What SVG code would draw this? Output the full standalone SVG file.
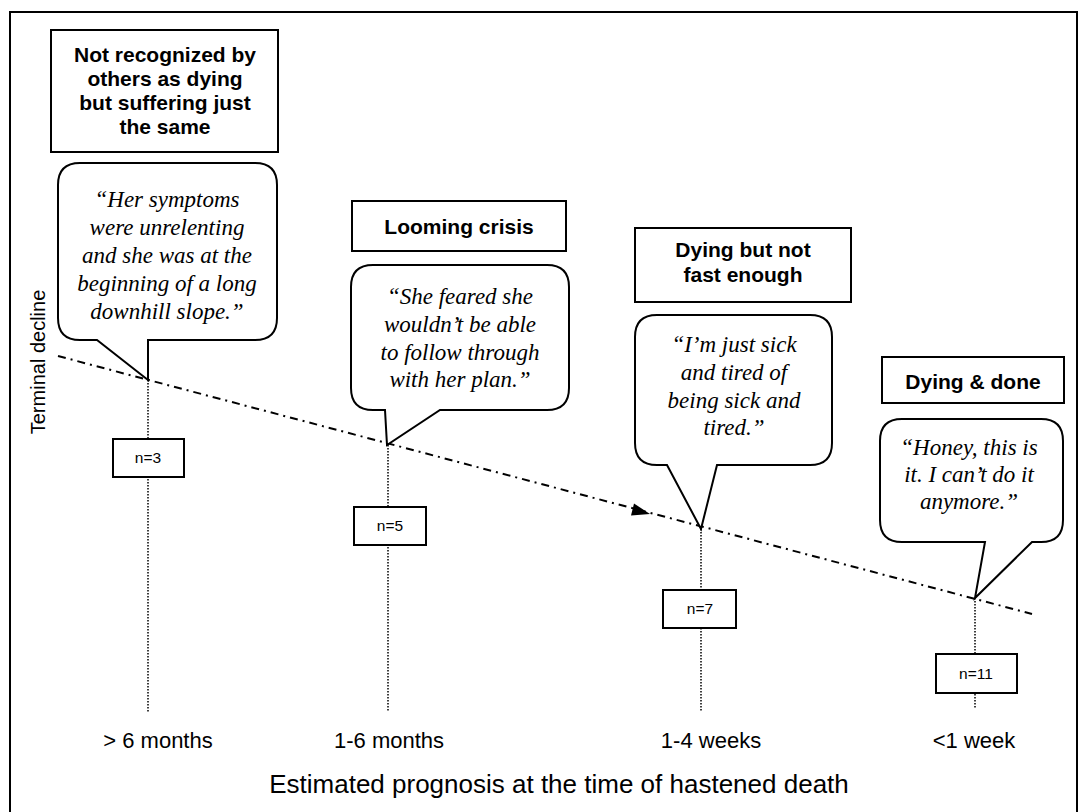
<svg xmlns="http://www.w3.org/2000/svg" width="1083" height="812" viewBox="0 0 1083 812">
<style>
.box{fill:#fff;stroke:#000;stroke-width:2}
.bub{fill:#fff;stroke:#000;stroke-width:2;stroke-linejoin:miter}
.ttl{font-family:"Liberation Sans",Arial,sans-serif;font-weight:bold;font-size:21px;text-anchor:middle;fill:#000}
.q{font-family:"Liberation Serif","Times New Roman",serif;font-style:italic;font-size:23px;text-anchor:middle;fill:#000}
.n{font-family:"Liberation Sans",Arial,sans-serif;font-size:15.5px;text-anchor:middle;fill:#000}
.lab{font-family:"Liberation Sans",Arial,sans-serif;font-size:22px;text-anchor:middle;fill:#000}
.dot{stroke:#000;stroke-width:1.5;stroke-dasharray:1.5 1.5;fill:none}
</style>
<rect x="10" y="12" width="1067" height="820" fill="#fff" stroke="#000" stroke-width="2"/>
<g id="connectors">
<line class="dot" x1="148" y1="380" x2="148" y2="712"/>
<line class="dot" x1="388" y1="445" x2="388" y2="712"/>
<line class="dot" x1="701" y1="529" x2="701" y2="712"/>
<line class="dot" x1="975" y1="598" x2="975" y2="708"/>
<line x1="58" y1="356" x2="1032" y2="614" stroke="#000" stroke-width="2" stroke-dasharray="8 5 2 5"/>
<polygon points="650,514 631,515.5 634,503.5" fill="#000"/>
</g>
<g id="phase1">
<rect class="box" x="51" y="30" width="227" height="122"/>
<text class="ttl" x="165" y="62">Not recognized by</text>
<text class="ttl" x="165" y="86">others as dying</text>
<text class="ttl" x="165" y="110">but suffering just</text>
<text class="ttl" x="165" y="134">the same</text>
</g>
<g id="quote1">
<path class="bub" d="M80,163 H255 Q277,163 277,185 V318 Q277,340 255,340 H148 V380 L97,340 H80 Q58,340 58,318 V185 Q58,163 80,163 Z"/>
<text class="q" x="167" y="207">“Her symptoms</text>
<text class="q" x="167" y="235">were unrelenting</text>
<text class="q" x="167" y="263">and she was at the</text>
<text class="q" x="167" y="291">beginning of a long</text>
<text class="q" x="167" y="319">downhill slope.”</text>
</g>
<g id="phase2">
<rect class="box" x="352" y="201" width="214" height="50"/>
<text class="ttl" x="459" y="234">Looming crisis</text>
</g>
<g id="quote2">
<path class="bub" d="M373,265 H547 Q569,265 569,287 V388 Q569,410 547,410 H440 L387,445 L385,410 H373 Q351,410 351,388 V287 Q351,265 373,265 Z"/>
<text class="q" x="460" y="304">“She feared she</text>
<text class="q" x="460" y="332">wouldn’t be able</text>
<text class="q" x="460" y="360">to follow through</text>
<text class="q" x="460" y="387">with her plan.”</text>
</g>
<g id="phase3">
<rect class="box" x="635" y="228" width="216" height="74"/>
<text class="ttl" x="743" y="257">Dying but not</text>
<text class="ttl" x="743" y="282">fast enough</text>
</g>
<g id="quote3">
<path class="bub" d="M657,315 H810 Q832,315 832,337 V443 Q832,465 810,465 H717 L701,529 L667,465 H657 Q635,465 635,443 V337 Q635,315 657,315 Z"/>
<text class="q" x="734" y="352">“I’m just sick</text>
<text class="q" x="734" y="380">and tired of</text>
<text class="q" x="734" y="408">being sick and</text>
<text class="q" x="734" y="435">tired.”</text>
</g>
<g id="phase4">
<rect class="box" x="882" y="357" width="182" height="46"/>
<text class="ttl" x="973" y="389">Dying &amp; done</text>
</g>
<g id="quote4">
<path class="bub" d="M902,419 H1041 Q1063,419 1063,441 V520 Q1063,542 1041,542 H1032 L975,598 L985,542 H902 Q880,542 880,520 V441 Q880,419 902,419 Z"/>
<text class="q" x="969" y="455">“Honey, this is</text>
<text class="q" x="969" y="482">it. I can’t do it</text>
<text class="q" x="969" y="509">anymore.”</text>
</g>
<g id="n3"><rect class="box" x="113" y="439" width="71" height="38"/><text class="n" x="148" y="463">n=3</text></g>
<g id="n5"><rect class="box" x="354" y="507" width="72" height="38"/><text class="n" x="390" y="531">n=5</text></g>
<g id="n7"><rect class="box" x="663" y="590" width="73" height="38"/><text class="n" x="700" y="614">n=7</text></g>
<g id="n11"><rect class="box" x="936" y="654" width="81" height="39"/><text class="n" x="976" y="679">n=11</text></g>
<g id="labels">
<text class="lab" x="158" y="748">&gt; 6 months</text>
<text class="lab" x="389" y="748">1-6 months</text>
<text class="lab" x="711" y="748">1-4 weeks</text>
<text class="lab" x="974" y="748">&lt;1 week</text>
<text class="lab" x="559" y="793" style="font-size:26px">Estimated prognosis at the time of hastened death</text>
<text class="lab" style="font-size:20px" transform="translate(45,362) rotate(-90)">Terminal decline</text>
</g>
</svg>
